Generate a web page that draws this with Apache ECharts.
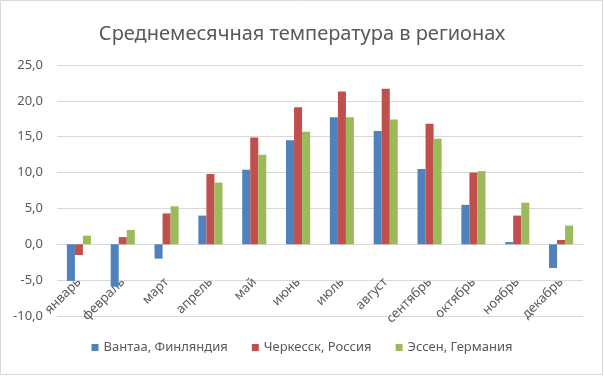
<!DOCTYPE html>
<html><head><meta charset="utf-8">
<script src="https://cdn.jsdelivr.net/npm/echarts@6/dist/echarts.min.js"></script>
<style>html,body{margin:0;padding:0;background:#fff}#c{width:604px;height:376px}</style>
</head><body><div id="c"></div>
<script>
const months = ['январь','февраль','март','апрель','май','июнь','июль','август','сентябрь','октябрь','ноябрь','декабрь'];
const seriesNames = ['Вантаа, Финляндия','Черкесск, Россия','Эссен, Германия'];
const vantaa = [-5.1,-5.9,-2.0,4.0,10.4,14.5,17.7,15.8,10.5,5.5,0.3,-3.3];
const cherkessk = [-1.5,1.0,4.3,9.8,14.9,19.1,21.3,21.7,16.8,10.0,4.0,0.6];
const essen = [1.2,2.0,5.3,8.6,12.5,15.7,17.7,17.4,14.7,10.2,5.8,2.6];
const colors = ['#4F81BD','#C0504D','#9BBB59'];
const font = 'Noto Sans';
const chart = echarts.init(document.getElementById('c'));
chart.setOption({
  animation:false,
  graphic:[{type:'rect',shape:{x:0.5,y:0.5,width:602,height:374},style:{fill:'none',stroke:'#d9d9d9',lineWidth:1},silent:true}],
  title:{text:'Среднемесячная температура в регионах',left:'center',top:19,textStyle:{fontFamily:font,fontSize:20,fontWeight:'normal',color:'#595959'}},
  legend:{bottom:17,itemWidth:7,itemHeight:7,itemGap:24,icon:'rect',textStyle:{fontFamily:font,fontSize:13,color:'#595959'},data:seriesNames},
  grid:{left:57,right:21,top:65,bottom:60},
  xAxis:[{type:'category',data:months,axisLine:{onZero:false,show:false},axisTick:{show:false},offset:-38,
    axisLabel:{rotate:45,interval:0,fontFamily:font,fontSize:13,color:'#595959',margin:2}},
    {type:'category',data:months,position:'bottom',gridIndex:0,show:true,axisLine:{onZero:true,lineStyle:{color:'#d9d9d9'}},axisTick:{show:false},axisLabel:{show:false}}],
  yAxis:{type:'value',min:-10,max:25,interval:5,axisLine:{show:false},axisTick:{show:false},
    splitLine:{lineStyle:{color:'#d9d9d9'}},
    axisLabel:{fontFamily:font,fontSize:13,color:'#595959',margin:14,formatter:v=>v.toFixed(1).replace('.',',')}},
  series:[vantaa,cherkessk,essen].map((d,i)=>({name:seriesNames[i],type:'bar',data:d,barGap:'0%',barCategoryGap:'45%',itemStyle:{color:colors[i]}}))
});
</script></body></html>
